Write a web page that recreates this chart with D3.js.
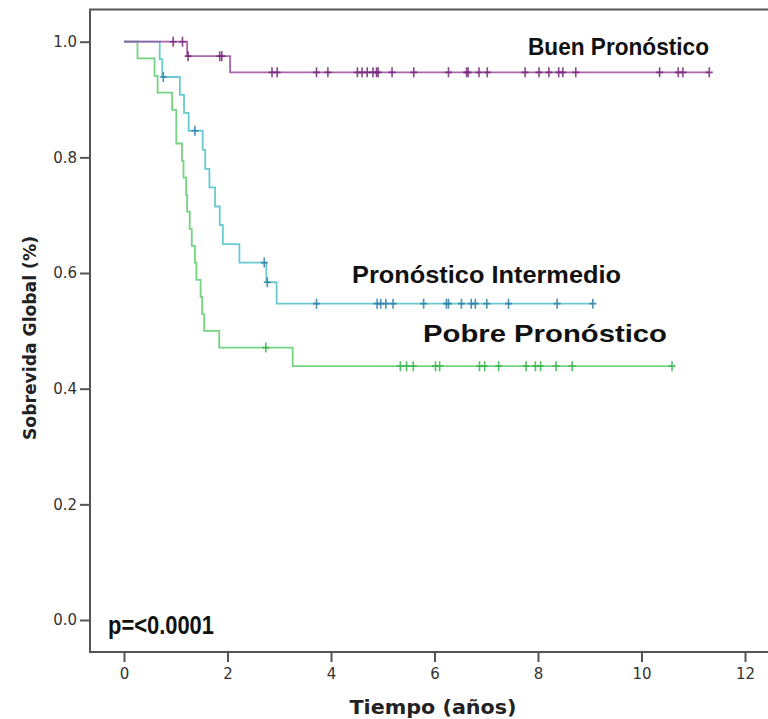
<!DOCTYPE html>
<html>
<head>
<meta charset="utf-8">
<script src="https://cdn.jsdelivr.net/npm/d3@7"></script>
<style>
  body { margin: 0; background: #fff; }
  svg { display: block; }
</style>
</head>
<body>
<svg id="chart"></svg>
<script>
// axis ticks
const xTicks = [0, 2, 4, 6, 8, 10, 12];
const yTicks = [0, 0.2, 0.4, 0.6, 0.8, 1.0];

// Kaplan-Meier steps: [tiempo (años), supervivencia]
const buenSteps = [[0, 1], [1.22, 0.975], [2.05, 0.947]];
const buenCensored = [0.95, 1.13, 1.24, 1.85, 1.89, 2.86, 2.96, 3.72, 3.94, 4.51, 4.60, 4.70,
  4.81, 4.88, 4.91, 5.18, 5.60, 6.27, 6.62, 6.65, 6.86, 7.02, 7.75, 8.02, 8.21, 8.40,
  8.48, 8.73, 10.35, 10.71, 10.80, 11.31];

const interSteps = [[0, 1], [0.69, 0.970], [0.74, 0.939], [1.08, 0.908], [1.16, 0.877],
  [1.25, 0.846], [1.52, 0.813], [1.57, 0.780], [1.65, 0.748], [1.76, 0.715],
  [1.85, 0.683], [1.91, 0.650], [2.23, 0.618], [2.75, 0.584], [2.95, 0.547]];
const interCensored = [0.76, 1.37, 2.71, 2.77, 3.72, 4.89, 4.96, 5.06, 5.20, 5.79, 6.23,
  6.27, 6.52, 6.71, 6.79, 7.01, 7.43, 8.37, 9.06];

const pobreSteps = [[0, 1], [0.26, 0.971], [0.59, 0.941], [0.65, 0.912], [0.93, 0.882],
  [1.01, 0.824], [1.12, 0.794], [1.15, 0.765], [1.20, 0.735], [1.22, 0.706],
  [1.27, 0.676], [1.31, 0.647], [1.37, 0.618], [1.40, 0.588], [1.48, 0.559],
  [1.51, 0.529], [1.55, 0.500], [1.84, 0.471], [3.26, 0.439]];
const pobreCensored = [2.74, 5.34, 5.46, 5.59, 6.02, 6.10, 6.87, 6.97, 7.24, 7.77, 7.95,
  8.05, 8.35, 8.66, 10.59];

const groups = [
    { name: 'Pobre Pronóstico', steps: pobreSteps, censored: pobreCensored,
      line: '#5dcc6b', mark: '#35b449', label: [423, 342, 244] },
    { name: 'Pronóstico Intermedio', steps: interSteps, censored: interCensored,
      line: '#4fc1c9', mark: '#2b7ea8', label: [352, 283, 269] },
    { name: 'Buen Pronóstico', steps: buenSteps, censored: buenCensored,
      line: '#9a4a9e', mark: '#74267a', label: [528, 55, 181] }
];

const W = 768, H = 719;
const svg = d3.select('#chart').attr('width', W).attr('height', H);

const x = d3.scaleLinear().domain([0, 12]).range([124, 745]);
const y = d3.scaleLinear().domain([0, 1]).range([620, 41.7]);

// plot frame
const frame = { left: 90, top: 9.5, right: 769, bottom: 652 };
svg.append('rect')
    .attr('x', frame.left).attr('y', frame.top)
    .attr('width', frame.right - frame.left)
    .attr('height', frame.bottom - frame.top)
    .attr('fill', 'none')
    .attr('stroke', '#555')
    .attr('stroke-width', 2);

// axes
const yAxis = svg.append('g')
    .attr('transform', `translate(${frame.left},0)`)
    .call(d3.axisLeft(y).tickValues(yTicks).tickFormat(d3.format('.1f'))
        .tickSize(10).tickPadding(3));
const xAxis = svg.append('g')
    .attr('transform', `translate(0,${frame.bottom})`)
    .call(d3.axisBottom(x).tickValues(xTicks).tickFormat(d3.format('d'))
        .tickSize(10).tickPadding(6));

[yAxis, xAxis].forEach(g => {
    g.select('.domain').remove();
    g.selectAll('.tick line').attr('stroke', '#555').attr('stroke-width', 2);
    g.selectAll('.tick text')
        .attr('fill', '#333')
        .style('font-family', "'DejaVu Sans', sans-serif")
        .style('font-size', '15px');
});

// survival value at time t
function survAt(steps, t) {
    let s = steps[0][1];
    steps.forEach(p => { if (p[0] <= t) s = p[1]; });
    return s;
}

const line = d3.line()
    .x(d => x(d[0]))
    .y(d => y(d[1]))
    .curve(d3.curveStepAfter);

groups.forEach(g => {
    const last = g.steps[g.steps.length - 1];
    const end = Math.max(last[0], d3.max(g.censored));
    const pts = g.steps.concat([[end, last[1]]]);

    svg.append('path')
        .datum(pts)
        .attr('d', line)
        .attr('fill', 'none')
        .attr('stroke', g.line)
        .attr('stroke-opacity', 0.85)
        .attr('stroke-width', 1.8);

    svg.append('g').selectAll('path')
        .data(g.censored)
        .join('path')
        .attr('d', t => {
            const cx = x(t), cy = y(survAt(g.steps, t));
            return `M${cx - 3.5},${cy}H${cx + 3.5}M${cx},${cy - 5}V${cy + 5}`;
        })
        .attr('fill', 'none')
        .attr('stroke', g.mark)
        .attr('stroke-opacity', 0.85)
        .attr('stroke-width', 1.6);
});

// group labels
svg.append('g').selectAll('text')
    .data(groups)
    .join('text')
    .attr('x', d => d.label[0])
    .attr('y', d => d.label[1])
    .attr('textLength', d => d.label[2])
    .attr('lengthAdjust', 'spacingAndGlyphs')
    .style('font-family', "'Liberation Sans', Arial, sans-serif")
    .style('font-weight', 'bold')
    .style('font-size', '23px')
    .attr('fill', '#111')
    .text(d => d.name);

// p value
svg.append('text')
    .attr('x', 108).attr('y', 634)
    .attr('textLength', 106)
    .attr('lengthAdjust', 'spacingAndGlyphs')
    .style('font-family', "'Liberation Sans', Arial, sans-serif")
    .style('font-weight', 'bold')
    .style('font-size', '25px')
    .attr('fill', '#111')
    .text('p=<0.0001');

// axis titles
svg.append('text')
    .attr('x', 433).attr('y', 714)
    .attr('text-anchor', 'middle')
    .attr('textLength', 167)
    .attr('lengthAdjust', 'spacingAndGlyphs')
    .style('font-family', "'DejaVu Sans', sans-serif")
    .style('font-weight', 'bold')
    .style('font-size', '20px')
    .attr('fill', '#222')
    .text('Tiempo (años)');

svg.append('text')
    .attr('transform', 'translate(36,338) rotate(-90)')
    .attr('text-anchor', 'middle')
    .attr('textLength', 204)
    .attr('lengthAdjust', 'spacingAndGlyphs')
    .style('font-family', "'DejaVu Sans', sans-serif")
    .style('font-weight', 'bold')
    .style('font-size', '17px')
    .attr('fill', '#222')
    .text('Sobrevida Global (%)');
</script>
</body>
</html>
